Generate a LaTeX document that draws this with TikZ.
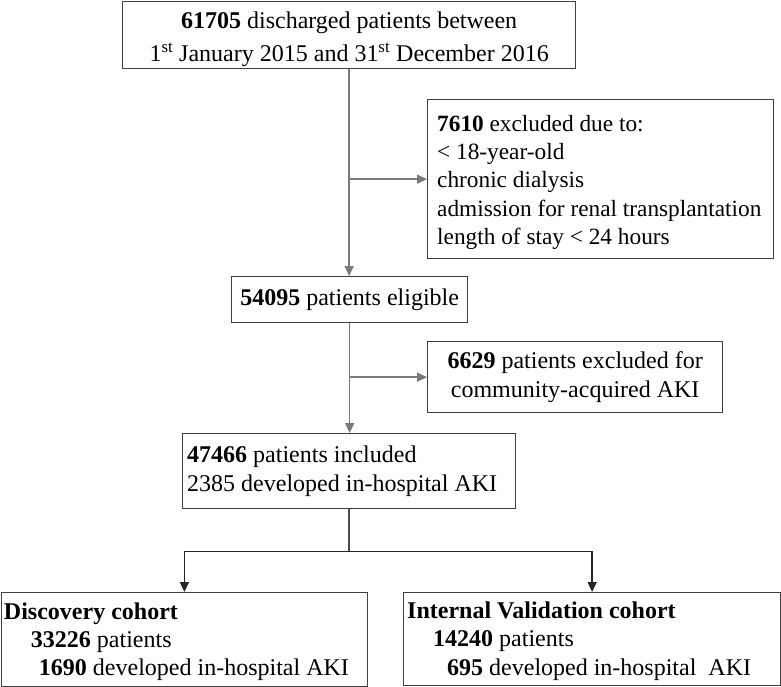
\documentclass[tikz,border=0pt]{standalone}
\usepackage{fontspec}
\setmainfont{Liberation Serif}
\usetikzlibrary{arrows.meta}
\definecolor{lgray}{HTML}{7A7A7A}
\definecolor{bgray}{HTML}{404040}
\begin{document}
\begin{tikzpicture}[x=1pt,y=-1pt,
  box/.style={draw=bgray, line width=1.3pt, inner sep=0pt, anchor=north west},
  txt/.style={inner sep=0pt, font=\fontsize{24}{28.3}\selectfont},
  garr/.style={draw=lgray, line width=1.4pt, -{Triangle[length=10pt,width=9pt]}},
  barr/.style={draw=black!85, line width=1.4pt, -{Triangle[length=10pt,width=9pt]}},
  bline/.style={draw=black!70, line width=1.4pt}]
\useasboundingbox (0,0) rectangle (781,687);

% boxes
\node[box, minimum width=453pt, minimum height=67pt] (top) at (122,0.75) {};
\node[box, minimum width=346pt, minimum height=159pt] (ex1) at (427,99) {};
\node[box, minimum width=236pt, minimum height=46pt] (elig) at (231,276) {};
\node[box, minimum width=295pt, minimum height=71pt] (ex2) at (427,341) {};
\node[box, minimum width=333pt, minimum height=75pt] (incl) at (182,433) {};
\node[box, minimum width=366pt, minimum height=94pt] (disc) at (0.75,592) {};
\node[box, minimum width=377pt, minimum height=93pt] (iv) at (403,592) {};

% texts
\node[txt, align=center, font=\fontsize{24}{33}\selectfont] (topt) at ([yshift=-4pt]top.center)
  {\textbf{61705} discharged patients between\\1\textsuperscript{st} January 2015 and 31\textsuperscript{st} December 2016};
\node[txt, align=left, anchor=west, font=\fontsize{23.3}{28.3}\selectfont] (ex1t) at ([xshift=10pt,yshift=-3pt]ex1.west)
  {\textbf{7610} excluded due to:\\< 18-year-old\\chronic dialysis\\admission for renal transplantation\\length of stay < 24 hours};
\node[txt, align=center] (eligt) at (elig.center) {\textbf{54095} patients eligible};
\node[txt, align=center] (ex2t) at (ex2.center)
  {\textbf{6629} patients excluded for\\community-acquired AKI};
\node[txt, align=left, anchor=west] (inclt) at ([xshift=5pt]incl.west)
  {\textbf{47466} patients included\\2385 developed in-hospital AKI};
\node[txt, align=left, anchor=west] (disct) at ([xshift=3pt,yshift=-2pt]disc.west)
  {\textbf{Discovery cohort}\\\hspace*{27pt}\textbf{33226} patients\\\hspace*{35pt}\textbf{1690} developed in-hospital AKI};
\node[txt, align=left, anchor=west] (ivt) at ([xshift=4pt,yshift=-2pt]iv.west)
  {\textbf{Internal Validation cohort}\\\hspace*{26pt}\textbf{14240} patients\\\hspace*{40pt}\textbf{695} developed in-hospital\ \ AKI};

% connectors
\draw[garr] (top.south) -- (top.south |- elig.north);
\draw[garr] (top.south |- ex1.west) -- (ex1.west);
\draw[garr] (elig.south) -- (elig.south |- incl.north);
\draw[garr] (elig.south |- ex2.west) -- (ex2.west);

\path (incl.south) ++(0,42) coordinate (split);
\draw[bline] (incl.south) -- (split);
\draw[barr] (split) -| (disc.north);
\draw[barr] (split) -| (iv.north);
\end{tikzpicture}
\end{document}
